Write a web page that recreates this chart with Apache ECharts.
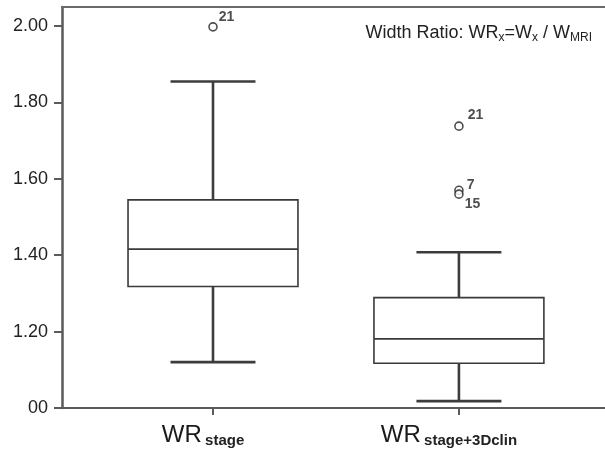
<!DOCTYPE html>
<html>
<head>
<meta charset="utf-8">
<script src="https://cdn.jsdelivr.net/npm/echarts@6/dist/echarts.min.js"></script>
<style>
  html, body { margin: 0; padding: 0; background: #fff; }
  #chart { width: 605px; height: 454px; }
</style>
</head>
<body>
<div id="chart"></div>
<script>
// 数据
const categories = ['stage', 'stage+3Dclin']
const boxMin = [1.120, 1.018]
const boxQ1 = [1.318, 1.117]
const boxMedian = [1.416, 1.181]
const boxQ3 = [1.545, 1.289]
const boxMax = [1.855, 1.408]

const outlierGroup = [0, 1, 1, 1]
const outlierValues = [1.998, 1.738, 1.570, 1.560]
const outlierIds = ['21', '21', '7', '15']
const outlierLabelOffset = [[-4, -10], [-1, -11], [-2, -5], [-4, 10]]

const yTicks = [1.0, 1.2, 1.4, 1.6, 1.8, 2.0]
const yTickLabels = ['00', '1.20', '1.40', '1.60', '1.80', '2.00']

const myChart = echarts.init(document.getElementById('chart'))

const boxData = categories.map((c, i) => [i + 1, boxMin[i], boxQ1[i], boxMedian[i], boxQ3[i], boxMax[i]])
const outlierData = outlierValues.map((v, i) => ({
	value: [outlierGroup[i] + 1, v],
	label: { offset: outlierLabelOffset[i], formatter: outlierIds[i] }
}))

const frameColor = '#5a5a5a'

const option = {
	animation: false,
	title: {
		right: 8,
		top: 17,
		text: '{a|Width Ratio: WR}{s|x}{a|=W}{s|x}{a| / W}{s|MRI}',
		textStyle: {
			fontWeight: 'normal',
			rich: {
				a: { fontFamily: 'Liberation Sans', fontSize: 18, fontWeight: 'normal', color: '#222', lineHeight: 22 },
				s: { fontFamily: 'Liberation Sans', fontSize: 12, fontWeight: 'normal', color: '#222', lineHeight: 12, verticalAlign: 'bottom' }
			}
		}
	},
	grid: {
		left: 62,
		right: 0,
		top: 7,
		bottom: 46,
		outerBoundsMode: 'none'
	},
	xAxis: [
		{
			type: 'value',
			min: 0.386,
			max: 2.594,
			splitLine: { show: false },
			axisLine: { show: true, lineStyle: { color: frameColor, width: 2 } },
			axisTick: {
				show: true,
				customValues: [1, 2],
				length: 7,
				lineStyle: { color: frameColor, width: 2 }
			},
			axisLabel: {
				customValues: [1, 2],
				margin: 14,
				padding: [0, 20, 0, 0],
				formatter: (v) => '{wr|WR} {sub|' + categories[Math.round(v) - 1] + '}',
				rich: {
					wr: { fontFamily: 'Liberation Sans', fontSize: 24, color: '#1a1a1a', lineHeight: 26 },
					sub: { fontFamily: 'Liberation Sans', fontSize: 15, fontWeight: 'bold', color: '#222', lineHeight: 15, verticalAlign: 'bottom' }
				}
			}
		},
		{
			type: 'value',
			position: 'top',
			min: 0.386,
			max: 2.594,
			splitLine: { show: false },
			axisLine: { show: true, lineStyle: { color: '#6a6a6a', width: 2 } },
			axisTick: { show: false },
			axisLabel: { show: false }
		}
	],
	yAxis: {
		type: 'value',
		min: 1.0,
		max: 2.05,
		splitLine: { show: false },
		axisLine: { show: true, lineStyle: { color: frameColor, width: 2.5 } },
		axisTick: {
			show: true,
			customValues: yTicks,
			length: 8,
			lineStyle: { color: frameColor, width: 2 }
		},
		axisLabel: {
			customValues: yTicks,
			margin: 14,
			fontFamily: 'Liberation Sans',
			fontSize: 18,
			color: '#222',
			formatter: (v) => {
				const i = yTicks.findIndex((t) => Math.abs(t - v) < 1e-6)
				return i === -1 ? '' : yTickLabels[i]
			}
		}
	},
	series: [
		{
			type: 'custom',
			data: boxData,
			encode: { x: 0, y: [1, 2, 3, 4, 5] },
			renderItem: (params, api) => {
				const x = api.value(0)
				const pMin = api.coord([x, api.value(1)])
				const pQ1 = api.coord([x, api.value(2)])
				const pMed = api.coord([x, api.value(3)])
				const pQ3 = api.coord([x, api.value(4)])
				const pMax = api.coord([x, api.value(5)])
				const halfBox = api.size([0.691, 0])[0] / 2
				const halfCap = halfBox / 2
				const cx = pMin[0]
				const whisker = { stroke: '#3c3c3c', lineWidth: 2.6 }
				const edge = { stroke: '#3a3a3a', fill: '#fff', lineWidth: 1.6 }
				return {
					type: 'group',
					children: [
						{ type: 'line', shape: { x1: cx, y1: pMax[1], x2: cx, y2: pQ3[1] }, style: whisker },
						{ type: 'line', shape: { x1: cx, y1: pQ1[1], x2: cx, y2: pMin[1] }, style: whisker },
						{ type: 'line', shape: { x1: cx - halfCap, y1: pMax[1], x2: cx + halfCap, y2: pMax[1] }, style: whisker },
						{ type: 'line', shape: { x1: cx - halfCap, y1: pMin[1], x2: cx + halfCap, y2: pMin[1] }, style: whisker },
						{ type: 'rect', shape: { x: cx - halfBox, y: pQ3[1], width: halfBox * 2, height: pQ1[1] - pQ3[1] }, style: edge },
						{ type: 'line', shape: { x1: cx - halfBox, y1: pMed[1], x2: cx + halfBox, y2: pMed[1] }, style: { stroke: '#3a3a3a', lineWidth: 1.6 } }
					]
				}
			}
		},
		{
			type: 'scatter',
			data: outlierData,
			symbol: 'circle',
			symbolSize: 8,
			itemStyle: { color: '#fff', borderColor: '#222', borderWidth: 1.6 },
			label: {
				show: true,
				position: 'right',
				fontFamily: 'Liberation Sans',
				fontSize: 14,
				fontWeight: 'bold',
				color: '#222'
			}
		}
	]
}

option && myChart.setOption(option)
</script>
</body>
</html>
